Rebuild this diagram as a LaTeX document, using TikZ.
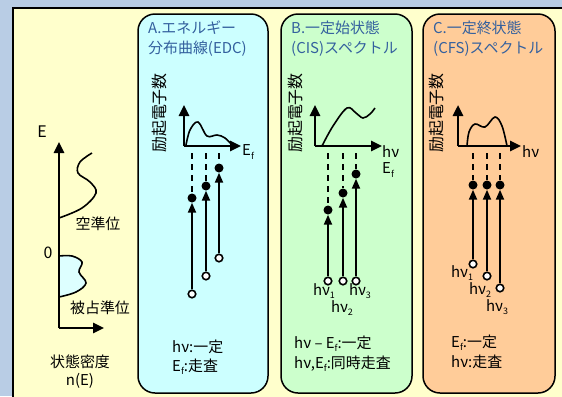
\documentclass[tikz,border=0pt]{standalone}
\usepackage{fontspec}
\setmainfont{Noto Sans CJK JP}
\usetikzlibrary{arrows.meta}
\definecolor{bgblue}{HTML}{B9CDE5}
\definecolor{paneyellow}{HTML}{FFFFCC}
\definecolor{pa}{HTML}{CCFFFF}
\definecolor{pb}{HTML}{CCFFCC}
\definecolor{pc}{HTML}{FFCC99}
\definecolor{titleblue}{HTML}{33609E}
\definecolor{dosfill}{HTML}{DDFFFF}
\newcommand{\lsub}[1]{\raisebox{-0.4ex}{\fontsize{9}{9}\selectfont #1}}
\begin{document}
\begin{tikzpicture}[x=1bp,y=-1bp,
  every node/.style={font=\fontsize{15}{18}\selectfont, inner sep=0pt},
  panel/.style={draw=black, line width=1.5bp, rounded corners=17bp},
  axis/.style={line width=2.5bp, -{Triangle[width=10bp,length=11bp]}},
  curve/.style={line width=1.6bp},
  beam/.style={line width=2bp, -{Triangle[width=8bp,length=10bp]}},
  dashline/.style={line width=2bp, dash pattern=on 6bp off 5bp},
  fdot/.style={circle, fill=black, minimum size=9bp},
  odot/.style={circle, draw=black, fill=white, line width=1.6bp, minimum size=7.5bp},
  ttl/.style={anchor=west, text=titleblue},
  note/.style={anchor=west},
  ylab/.style={rotate=90, font=\fontsize{16}{18}\selectfont}]
\useasboundingbox (0,0) rectangle (562,396);
\fill[bgblue] (0,0) rectangle (562,396);
\draw[fill=paneyellow, line width=2bp] (13,8) rectangle (580,420);

% ---------- density of states ----------
\coordinate (o) at (59,328);
\coordinate (ytip) at (59,142);
\coordinate (xtip) at (104,328);
\fill[dosfill] plot[smooth, tension=0.6] coordinates {(59,256) (72,256) (82,262) (79,272) (86,283) (76,292) (59,297)} -- cycle;
\draw[curve] plot[smooth, tension=0.6] coordinates {(59,256) (72,256) (82,262) (79,272) (86,283) (76,292) (59,297)};
\draw[curve] plot[smooth, tension=0.6] coordinates {(59,218) (82,208) (96,193) (90,182) (78,173) (80,162) (92,153)};
\draw[axis] (o) -- (ytip);
\draw[axis] (o) -- (xtip);
\node[font=\fontsize{16}{18}\selectfont] (lE) at (42,132) {E};
\node[font=\fontsize{16}{18}\selectfont] (l0) at (48,253) {0};
\node (empty) at (98,224) {空準位};
\node (occ) at (100,308) {被占準位};
\node (dos1) at (80,362) {状態密度};
\node (dos2) at (80,381) {n(E)};

% ---------- panels ----------
\draw[panel, fill=pa] (138,14) rectangle (268,393);
\draw[panel, fill=pb] (281,14) rectangle (412,393);
\draw[panel, fill=pc] (423,14) rectangle (555,393);

% ---------- panel A ----------
\node[ttl] (ta1) at (148,28) {A.エネルギー};
\node[ttl] (ta2) at (148,49) {分布曲線(EDC)};
\node[ylab] (ya) at (159,113) {励起電子数};
\coordinate (ao) at (184,146);
\draw[curve] plot[smooth, tension=0.6] coordinates {(186,145) (190,130) (198,122) (207,136) (217,135) (225,138) (233,146)};
\draw[axis] (ao) -- (184,105);
\draw[axis] (ao) -- (241,146);
\node[anchor=west] (aEf) at (242,152) {E\lsub{f}};
\foreach \i/\x/\yd/\yo in {1/192/198/294, 2/206/186/276, 3/219/168/258}{
  \coordinate (ac\i) at (\x,153);
  \node[fdot] (ad\i) at (\x,\yd) {};
  \node[odot] (ao\i) at (\x,\yo) {};
  \draw[dashline] (ac\i) -- (ad\i);
  \draw[beam] (ao\i) -- (ad\i);
}
\node[note] (na1) at (172,347) {hν:一定};
\node[note] (na2) at (172,367) {E\lsub{f}:走査};

% ---------- panel B ----------
\node[ttl] (tb1) at (291,28) {B.一定始状態};
\node[ttl] (tb2) at (291,49) {(CIS)スペクトル};
\node[ylab] (yb) at (295,113) {励起電子数};
\coordinate (bo) at (315,146);
\draw[curve] plot[smooth, tension=0.6] coordinates {(322,146) (333,126) (347,108) (356,113) (363,118) (370,114) (375,108)};
\draw[axis] (bo) -- (315,105);
\draw[axis] (bo) -- (382,146);
\node[anchor=west] (bhv) at (382,152) {hν};
\node[anchor=west] (bEf) at (382,170) {E\lsub{f}};
\foreach \i/\x/\yd in {1/328/210, 2/343/193, 3/356/174}{
  \coordinate (bc\i) at (\x,153);
  \node[fdot] (bd\i) at (\x,\yd) {};
  \node[odot] (bo\i) at (\x,281) {};
  \draw[dashline] (bc\i) -- (bd\i);
  \draw[beam] (bo\i) -- (bd\i);
}
\node (bl1) at (324,291) {hν\lsub{1}};
\node (bl3) at (360,291) {hν\lsub{3}};
\node (bl2) at (342,308) {hν\lsub{2}};
\node[note] (nb1) at (294,344) {hν – E\lsub{f}:一定};
\node[note] (nb2) at (294,364) {hν,E\lsub{f}:同時走査};

% ---------- panel C ----------
\node[ttl] (tc1) at (433,28) {C.一定終状態};
\node[ttl] (tc2) at (433,49) {(CFS)スペクトル};
\node[ylab] (yc) at (436,113) {励起電子数};
\coordinate (co) at (458,146);
\draw[curve] plot[smooth, tension=0.6] coordinates {(467,146) (469,132) (475,124) (485,127) (495,117) (502,126) (507,146)};
\draw[axis] (co) -- (458,105);
\draw[axis] (co) -- (521,146);
\node[anchor=west] (chv) at (522,152) {hν};
\foreach \i/\x/\yo in {1/473/264, 2/487/276, 3/500/288}{
  \coordinate (cc\i) at (\x,153);
  \node[fdot] (cd\i) at (\x,185) {};
  \node[odot] (co\i) at (\x,\yo) {};
  \draw[dashline] (cc\i) -- (cd\i);
  \draw[beam] (co\i) -- (cd\i);
}
\node (cl1) at (462,273) {hν\lsub{1}};
\node (cl2) at (480,290) {hν\lsub{2}};
\node (cl3) at (497,307) {hν\lsub{3}};
\node[note] (nc1) at (451,343) {E\lsub{f}:一定};
\node[note] (nc2) at (451,362) {hν:走査};
\end{tikzpicture}
\end{document}
